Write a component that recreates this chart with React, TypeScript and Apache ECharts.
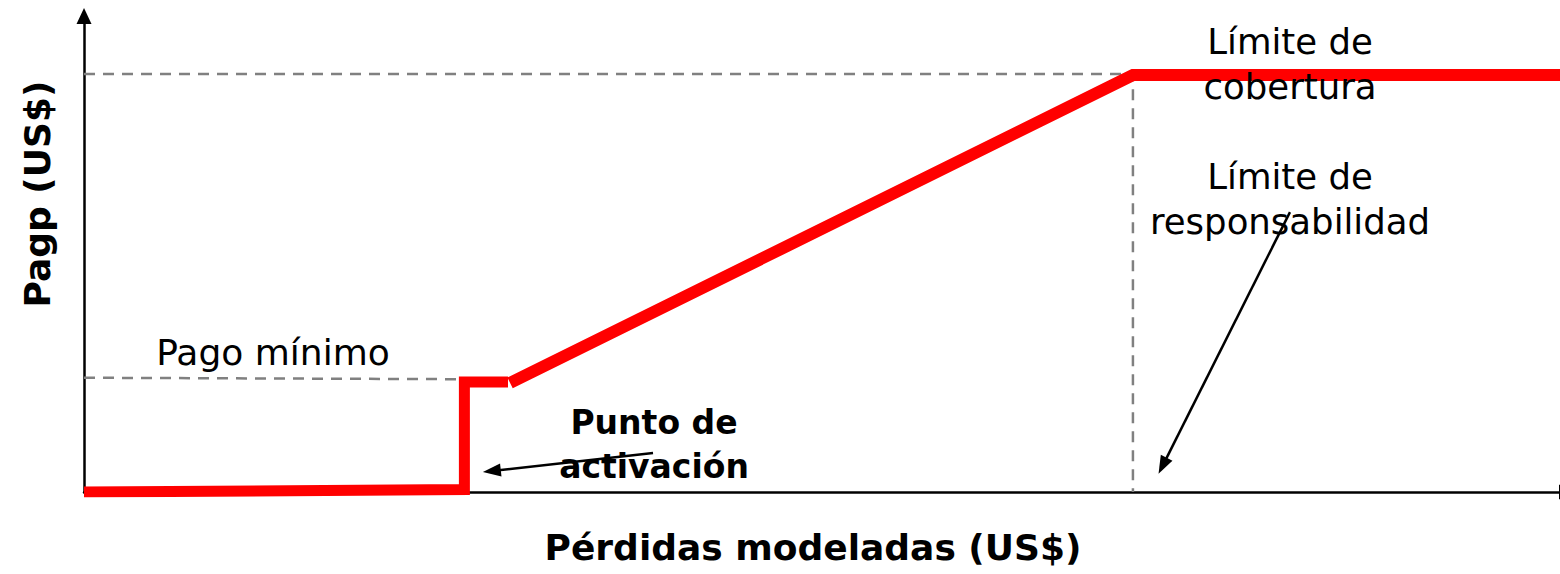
import React, { useEffect, useRef } from "react";
import * as echarts from "echarts";

// Axis ranges (abstract units)
const xRange = [0, 100];
const yRange = [0, 100];

// Payout curve: below trigger, step up to minimum payment
const stepCurve: [number, number][] = [
  [0, 0],
  [25.65, 0.5],
  [25.65, 23.1],
  [28.59, 23.1],
];
// Linear payout up to coverage limit, then flat
const rampCurve: [number, number][] = [
  [28.73, 22.9],
  [70.73, 87.6],
  [100, 87.6],
];
// Reference dashed guides
const coverageGuide: [number, number][] = [
  [0, 87.8],
  [70.73, 87.8],
  [70.73, 0],
];
const minPaymentGuide: [number, number][] = [
  [0, 24.0],
  [25.36, 23.7],
];
// Annotation arrows: [start, end]
const arrowTrigger: [number, number][] = [
  [38.37, 8.19],
  [27.5, 4.4],
];
const arrowLiability: [number, number][] = [
  [81.32, 58.8],
  [72.73, 5.5],
];

const FONT = "'DejaVu Sans', sans-serif";

export default function App() {
  const ref = useRef<HTMLDivElement>(null);
  useEffect(() => {
    if (!ref.current) return;
    const chart = echarts.init(ref.current, null, { renderer: "svg" });
    const arrowLine = (pts: [number, number][]) => [
      { coord: pts[0], symbol: "none" },
      { coord: pts[1], symbol: "triangle" },
    ];
    const text = (
      t: string,
      x: number,
      y: number,
      size: number,
      bold: boolean,
      rotation = 0
    ) => ({
      type: "text",
      x,
      y,
      rotation,
      z: 100,
      style: {
        text: t,
        fill: "#000",
        fontSize: size,
        fontFamily: FONT,
        fontWeight: bold ? "bold" : "normal",
        textAlign: "center",
        textVerticalAlign: "middle",
      },
    });
    chart.setOption({
      animation: false,
      backgroundColor: "#fff",
      grid: { left: 84, right: 0, top: 16, bottom: 82, containLabel: false },
      xAxis: {
        type: "value",
        min: xRange[0],
        max: xRange[1],
        axisLine: {
          show: true,
          onZero: false,
          lineStyle: { color: "#000", width: 2.5 },
          symbol: ["none", "triangle"],
          symbolSize: [15, 16],
        },
        axisTick: { show: false },
        axisLabel: { show: false },
        splitLine: { show: false },
      },
      yAxis: {
        type: "value",
        min: yRange[0],
        max: yRange[1],
        axisLine: {
          show: true,
          onZero: false,
          lineStyle: { color: "#000", width: 2.5 },
          symbol: ["none", "triangle"],
          symbolSize: [15, 16],
        },
        axisTick: { show: false },
        axisLabel: { show: false },
        splitLine: { show: false },
      },
      series: [
        {
          type: "line",
          data: coverageGuide,
          showSymbol: false,
          silent: true,
          z: 1,
          lineStyle: { color: "#808080", width: 2.5, type: [11, 8] },
        },
        {
          type: "line",
          data: minPaymentGuide,
          showSymbol: false,
          silent: true,
          z: 1,
          lineStyle: { color: "#808080", width: 2.5, type: [11, 8] },
          markLine: {
            silent: true,
            symbolSize: [13, 18],
            label: { show: false },
            lineStyle: { color: "#000", width: 2.5, type: "solid" },
            data: [arrowLine(arrowTrigger), arrowLine(arrowLiability)],
          },
        },
        {
          type: "line",
          data: stepCurve,
          showSymbol: false,
          silent: true,
          z: 3,
          lineStyle: { color: "#ff0000", width: 11, cap: "butt", join: "miter" },
        },
        {
          type: "line",
          data: rampCurve,
          showSymbol: false,
          silent: true,
          z: 3,
          lineStyle: { color: "#ff0000", width: 12, cap: "butt", join: "miter" },
        },
      ],
      graphic: [
        text("Pagp (US$)", 37, 194, 36, true, Math.PI / 2),
        text("Pérdidas modeladas (US$)", 813, 547, 36, true),
        text("Pago mínimo", 273, 352, 36, false),
        text("Punto de", 654, 422, 33, true),
        text("activación", 654, 466, 33, true),
        text("Límite de", 1290, 41, 35.5, false),
        text("cobertura", 1290, 86, 35.5, false),
        text("Límite de", 1290, 176, 35.5, false),
        text("responsabilidad", 1290, 221, 35.5, false),
      ],
    });
    return () => chart.dispose();
  }, []);
  return (
    <div
      style={{
        position: "absolute",
        left: 0,
        top: 0,
        width: 1560,
        height: 574,
        overflow: "hidden",
      }}
    >
      <div ref={ref} style={{ width: 1567, height: 574 }} />
    </div>
  );
}
